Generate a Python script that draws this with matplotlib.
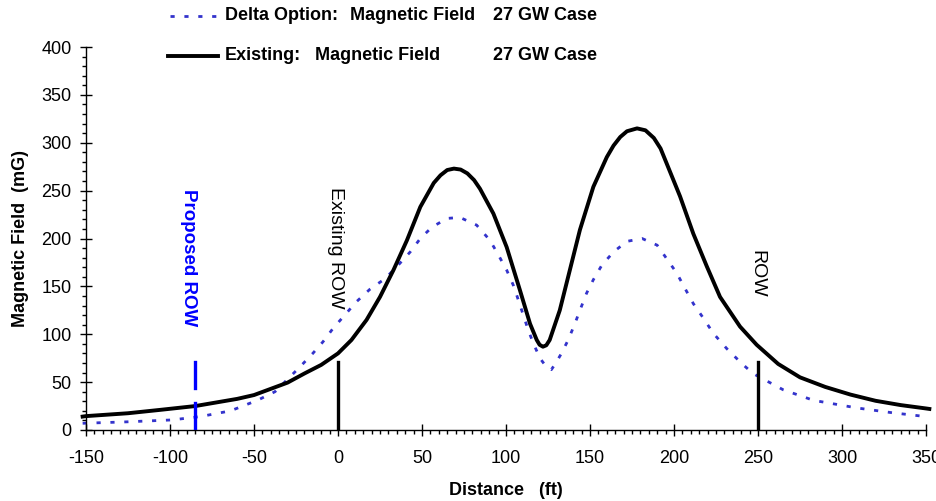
import matplotlib
matplotlib.use('Agg')
import matplotlib.pyplot as plt
from matplotlib.lines import Line2D
from matplotlib.ticker import MultipleLocator

plt.rcParams['font.family'] = ['Liberation Sans', 'DejaVu Sans']
plt.rcParams['axes.unicode_minus'] = False

# Existing: Magnetic Field 27 GW Case
existing_ft = [-152, -150, -125, -106, -85, -75, -60, -50, -40, -30, -20, -10, 0, 8, 17, 25, 33,
               41, 49, 57, 61, 65, 69, 73, 77, 81, 84.5, 92.5, 100.4, 108.3, 114.3, 118.3, 120,
               122, 124, 126, 132, 138, 144, 152, 160, 164, 168, 172, 178, 183, 188, 192, 195.6,
               203.6, 211.5, 219.5, 227.4, 239.3, 249.2, 262, 275, 290, 305, 320, 335, 350, 352]
existing_mg = [14, 14.5, 17.5, 21, 25, 28, 32.5, 36.5, 43, 49.5, 59, 68, 80, 94, 115, 139, 167,
               198, 233, 258, 266, 271.5, 273, 272, 268, 261, 252, 226, 191, 146, 111, 94, 89,
               87, 88.5, 94, 125, 167, 209, 254, 285, 297, 306, 312, 315, 313, 305, 294, 278.5,
               244, 205, 171, 139, 108, 89, 69, 55, 45, 37, 30.5, 26, 22.5, 22]

# Delta Option: Magnetic Field 27 GW Case
delta_ft = [-152, -126, -99, -82, -64, -48, -37.5, -30, -22.6, -15, -9, -3, 4, 11, 19, 28, 35,
            43, 49, 56, 65, 72.6, 82.5, 90.5, 95.4, 100.4, 104.4, 107.3, 110.3, 113.3, 116.3,
            120.2, 124, 127, 130, 133, 137, 141, 144, 148, 152, 157, 164, 172, 181, 190,
            195.6, 201.6, 206.5, 211.5, 217.4, 223.4, 231.4, 240, 247, 265, 283, 309, 330,
            345, 350]
delta_mg = [7, 8.5, 10.5, 14, 20, 31, 40, 53, 66, 80, 92, 106, 120, 134, 147, 158, 170.6,
            186, 200, 212, 221, 222, 214, 198, 183, 167, 151, 136, 120, 104, 90.5,
            75, 66, 63, 71, 80, 94, 111, 125, 143, 157, 172, 186, 197, 200, 193,
            179, 164, 148, 132, 117, 101, 85, 70, 59, 42, 31, 23, 18,
            15, 14]

# ROW markers (ft) and their labels
row_marks = [-85, 0, 250]
row_labels = ['Proposed ROW', 'Existing ROW', 'ROW']

fig = plt.figure(figsize=(9.36, 5.01), dpi=100)
ax = fig.add_axes([86 / 936, 1 - 430 / 501, 840 / 936, 383 / 501])

ax.plot(delta_ft, delta_mg, color='#3333cc', lw=2, linestyle=(0, (1.5, 3.5)), clip_on=False)
ax.plot(existing_ft, existing_mg, color='black', lw=2.8, clip_on=False, zorder=3,
        solid_joinstyle='round')

# ROW marker lines
ax.plot([row_marks[0], row_marks[0]], [0, 28], color='#0000ff', lw=2.4, zorder=4)
ax.plot([row_marks[0], row_marks[0]], [44, 71], color='#0000ff', lw=2.4, zorder=4)
ax.plot([row_marks[1], row_marks[1]], [0, 71], color='black', lw=2.4, zorder=4)
ax.plot([row_marks[2], row_marks[2]], [0, 71], color='black', lw=2.4, zorder=4)

ax.text(-89, 180, row_labels[0], rotation=-90, ha='center', va='center',
        color='#0000ff', fontsize=13.5, fontweight='bold')
ax.text(-1.5, 190, row_labels[1], rotation=-90, ha='center', va='center',
        color='black', fontsize=14)
ax.text(249.5, 163, row_labels[2], rotation=-90, ha='center', va='center',
        color='black', fontsize=14)

ax.set_xlim(-150, 350)
ax.set_ylim(0, 400)
ax.xaxis.set_major_locator(MultipleLocator(50))
ax.xaxis.set_minor_locator(MultipleLocator(5))
ax.yaxis.set_major_locator(MultipleLocator(50))
ax.yaxis.set_minor_locator(MultipleLocator(10))
ax.tick_params(which='major', direction='inout', length=9, width=1, labelsize=13, pad=6)
ax.tick_params(axis='x', which='major', pad=10)
ax.tick_params(which='minor', direction='out', length=3, width=1)
for side in ['top', 'right']:
    ax.spines[side].set_visible(False)
for side in ['left', 'bottom']:
    ax.spines[side].set_linewidth(1)

ax.set_xlabel('Distance   (ft)', fontsize=13, fontweight='bold')
ax.set_ylabel('Magnetic Field  (mG)', fontsize=13, fontweight='bold')
ax.xaxis.set_label_coords(0.5, -0.135)
ax.yaxis.set_label_coords(-0.068, 0.5)

# legend drawn by hand at the top
fig.add_artist(Line2D([170 / 936, 218 / 936], [1 - 16 / 501, 1 - 16 / 501], color='#3333cc',
                      lw=2, linestyle=(0, (1.5, 3.5))))
fig.add_artist(Line2D([168 / 936, 218 / 936], [1 - 56 / 501, 1 - 56 / 501], color='black', lw=2.8))
fig.text(225 / 936, 1 - 16 / 501, 'Delta Option:', fontsize=13, fontweight='bold', va='center')
fig.text(350 / 936, 1 - 16 / 501, 'Magnetic Field', fontsize=13, fontweight='bold', va='center')
fig.text(493 / 936, 1 - 16 / 501, '27 GW Case', fontsize=13, fontweight='bold', va='center')
fig.text(225 / 936, 1 - 56 / 501, 'Existing:', fontsize=13, fontweight='bold', va='center')
fig.text(315 / 936, 1 - 56 / 501, 'Magnetic Field', fontsize=13, fontweight='bold', va='center')
fig.text(493 / 936, 1 - 56 / 501, '27 GW Case', fontsize=13, fontweight='bold', va='center')

fig.savefig('out.png', dpi=100)
